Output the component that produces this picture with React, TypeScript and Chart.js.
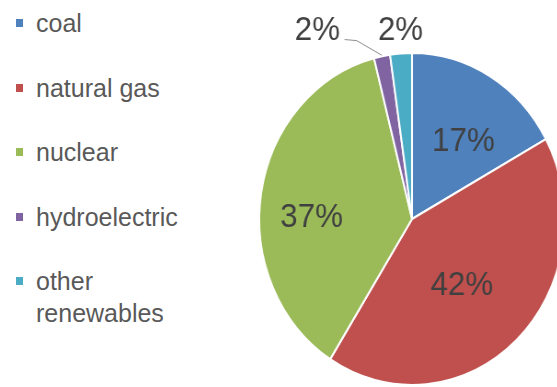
import React, { useEffect, useRef } from "react";
import { Chart, registerables } from "chart.js";

Chart.register(...registerables);

// ---- data ----
const categories = ["coal", "natural gas", "nuclear", "hydroelectric", "other renewables"];
const shares = [17, 42, 37, 1.7, 2.3];
const shareLabels = ["17%", "42%", "37%", "2%", "2%"];

// ---- style ----
const colors = ["#4F81BD", "#C0504D", "#9BBB59", "#8064A2", "#4BACC6"];
// label placement relative to each slice: radius fraction and angle offset (deg, clockwise)
const labelPlacement = [
  { r: 0.59, da: 4.2, leader: false },
  { r: 0.505, da: 2.9, leader: false },
  { r: 0.658, da: -6.6, leader: false },
  { r: 1.309, da: -16.9, leader: true },
  { r: 1.156, da: 0.4, leader: false },
];

const FONT = "'Liberation Sans', Arial, Helvetica, sans-serif";
const CANVAS_W = 400;
const CANVAS_H = 438;
const SQUEEZE = 0.92;

const labelPlugin = {
  id: "sliceLabels",
  afterDatasetsDraw(chart: any) {
    const ctx = chart.ctx;
    const meta = chart.getDatasetMeta(0);
    const size = 34;
    ctx.save();
    ctx.font = `${size}px ${FONT}`;
    ctx.fillStyle = "#404040";
    ctx.textAlign = "center";
    ctx.textBaseline = "alphabetic";
    meta.data.forEach((arc: any, i: number) => {
      const p = arc.getProps(["x", "y", "startAngle", "endAngle", "outerRadius"], true);
      const place = labelPlacement[i];
      const midRaw = (p.startAngle + p.endAngle) / 2;
      const mid = midRaw + (place.da * Math.PI) / 180;
      const r = p.outerRadius * place.r;
      const lx = p.x + Math.cos(mid) * r;
      const ly = p.y + Math.sin(mid) * r;
      ctx.fillText(shareLabels[i], lx, ly + size * 0.358);
      if (place.leader) {
        const w = ctx.measureText(shareLabels[i]).width;
        const sx = lx + w / 2 + 5;
        const sy = ly + 12;
        const kx = sx + 13;
        const ky = sy + 1;
        const ex = p.x + Math.cos(midRaw) * (p.outerRadius + 1);
        const ey = p.y + Math.sin(midRaw) * (p.outerRadius + 1);
        ctx.beginPath();
        ctx.strokeStyle = "#8c8c8c";
        ctx.lineWidth = 1;
        ctx.moveTo(sx, sy);
        ctx.lineTo(kx, ky);
        ctx.lineTo(ex, ey);
        ctx.stroke();
      }
    });
    ctx.restore();
  },
};

function PieChart() {
  const ref = useRef<HTMLCanvasElement | null>(null);
  useEffect(() => {
    if (!ref.current) return;
    const chart = new Chart(ref.current, {
      type: "pie",
      data: {
        labels: categories,
        datasets: [
          {
            data: shares,
            backgroundColor: colors,
            borderColor: "#ffffff",
            borderWidth: 2,
          },
        ],
      },
      options: {
        responsive: false,
        animation: false,
        radius: 166,
        layout: { padding: 0 },
        plugins: {
          legend: { display: false },
          tooltip: { enabled: false },
        },
      } as any,
      plugins: [labelPlugin],
    });
    return () => chart.destroy();
  }, []);
  return (
    <canvas
      ref={ref}
      width={CANVAS_W}
      height={CANVAS_H}
      style={{
        position: "absolute",
        left: 412 - CANVAS_W / 2,
        top: 0,
        width: CANVAS_W,
        height: CANVAS_H,
        transform: `scaleX(${SQUEEZE})`,
        transformOrigin: `${CANVAS_W / 2}px 219px`,
      }}
    />
  );
}

function Legend() {
  return (
    <div>
      {categories.map((c, i) => (
        <div
          key={c}
          style={{
            position: "absolute",
            left: 36,
            top: 7 + i * 64.5,
            width: 160,
            font: `25px ${FONT}`,
            lineHeight: "32px",
            color: "#595959",
          }}
        >
          <span
            style={{
              position: "absolute",
              left: -20,
              top: 12,
              width: 7,
              height: 8,
              background: colors[i],
            }}
          />
          {c}
        </div>
      ))}
    </div>
  );
}

export default function App() {
  return (
    <div
      style={{
        position: "fixed",
        left: 0,
        top: 0,
        width: 557,
        height: 387,
        overflow: "hidden",
        background: "#ffffff",
      }}
    >
      <Legend />
      <PieChart />
    </div>
  );
}
